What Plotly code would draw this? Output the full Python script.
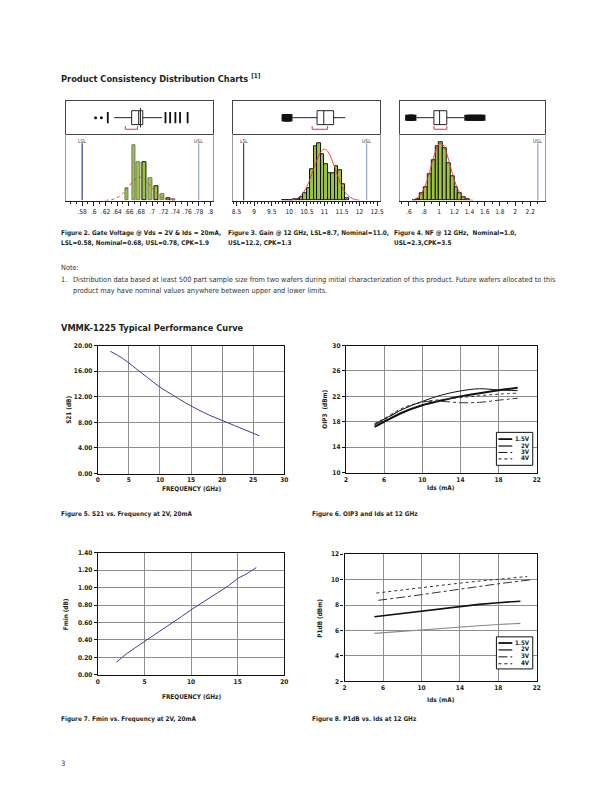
import plotly.graph_objects as go

# The page body has an 8px default margin, so the figure is sized to fill the rest
OFF = 8
W, H = 612 - OFF, 792 - OFF


def fx(px):
    return (px - OFF) / W


def fy(py):
    return 1 - (py - OFF) / H


NARROW = "Liberation Sans Narrow, DejaVu Sans Condensed, Arial Narrow, Liberation Sans, sans-serif"
INK = "#231f20"
GREEN = "#9cc43c"
RED = "#e4343c"

# ---------------- data: Figure 2 (gate voltage) ----------------
gv_centers = [0.657, 0.669, 0.677, 0.687, 0.697, 0.708, 0.718, 0.728, 0.737]
gv_counts = [12.7, 56, 39, 39, 23, 14, 6, 2, 1]
gv_fit_x = [0.62, 0.63, 0.64, 0.65, 0.66, 0.67, 0.68, 0.69, 0.70, 0.71, 0.72, 0.73, 0.74]
gv_fit_y = [0.2, 0.8, 2.9, 7.3, 14.3, 21.0, 23.5, 19.9, 12.8, 6.2, 2.3, 0.6, 0.1]
gv_stats = [0.635, 0.665, 0.677, 0.684, 0.717]  # lower fence, q1, median, q3, upper fence
gv_mean = [0.680]
gv_out_dots = [0.603, 0.613]
gv_out_ticks = [0.624, 0.723, 0.731, 0.740, 0.748, 0.761]
gv_bracket = [0.654, 0.675]
gv_limits = [0.58, 0.78]
gv_ticks = [0.58, 0.60, 0.62, 0.64, 0.66, 0.68, 0.70, 0.72, 0.74, 0.76, 0.78, 0.80]
gv_ticktext = [".58", ".6", ".62", ".64", ".66", ".68", ".7", ".72", ".74", ".76", ".78", ".8"]

# ---------------- data: Figure 3 (gain) ----------------
gain_centers = [9.85, 9.95, 10.05, 10.15, 10.25, 10.35, 10.45, 10.55, 10.65, 10.75,
                10.85, 10.95, 11.05, 11.15, 11.25, 11.35, 11.45, 11.55, 11.65]
gain_counts = [0.5, 0.5, 0.7, 1, 1.5, 3, 7, 12, 32, 55, 58, 47, 37, 28, 28, 35, 31, 16, 2]
gain_fit_x = [10.0, 10.1, 10.2, 10.3, 10.4, 10.5, 10.6, 10.7, 10.8, 10.9, 11.0,
              11.1, 11.2, 11.3, 11.4, 11.5, 11.6, 11.7, 11.8, 11.9, 12.0]
gain_fit_y = [0.3, 0.8, 1.9, 4.1, 8.0, 14.2, 22.6, 32.6, 42.2, 49.4, 52.0,
              49.4, 42.2, 32.6, 22.6, 14.2, 8.0, 4.1, 1.9, 0.8, 0.3]
gain_stats = [10.09, 10.79, 10.98, 11.26, 11.59]
gain_outliers = [9.88, 9.90, 9.92, 9.94, 9.96, 9.98, 9.99]
gain_bracket = [10.65, 11.09]
gain_limits = [8.7, 12.2]
gain_ticks = [8.5, 9, 9.5, 10, 10.5, 11, 11.5, 12, 12.5]
gain_ticktext = ["8.5", "9", "9.5", "10", "10.5", "11", "11.5", "12", "12.5"]

# ---------------- data: Figure 4 (noise figure) ----------------
nf_centers = [0.675, 0.725, 0.775, 0.825, 0.875, 0.925, 0.975, 1.025, 1.075,
              1.125, 1.175, 1.225, 1.275, 1.325, 1.375]
nf_counts = [0.5, 1.7, 7, 13, 27, 41, 55, 59, 53, 38, 25, 13, 7, 3, 1]
nf_fit_x = [0.65, 0.70, 0.75, 0.80, 0.85, 0.90, 0.95, 1.00, 1.05, 1.10, 1.15,
            1.20, 1.25, 1.30, 1.35, 1.40, 1.45]
nf_fit_y = [0.7, 2.2, 5.6, 12.3, 23.0, 36.6, 49.6, 57.3, 56.4, 47.3, 33.8,
            20.6, 10.7, 4.7, 1.8, 0.6, 0.2]
nf_stats = [0.70, 0.93, 1.005, 1.10, 1.33]
nf_outliers = [0.59, 0.61, 0.63, 0.645, 0.66, 1.37, 1.40, 1.43, 1.46, 1.49, 1.52, 1.55, 1.57]
nf_bracket = [0.93, 1.10]
nf_usl = [2.3]
nf_ticks = [0.6, 0.8, 1.0, 1.2, 1.4, 1.6, 1.8, 2.0, 2.2]
nf_ticktext = [".6", ".8", "1", "1.2", "1.4", "1.6", "1.8", "2", "2.2"]

# ---------------- data: Figure 5 (S21 vs frequency) ----------------
s21_freq = [2, 4, 6, 8, 10, 12, 14, 16, 18, 20, 22, 24, 26]
s21_db = [19.1, 18.0, 16.5, 15.0, 13.5, 12.3, 11.1, 10.05, 9.1, 8.3, 7.5, 6.7, 5.9]

# ---------------- data: Figure 6 (OIP3 vs Ids) ----------------
oip3_ids = [5, 6, 8, 10, 12, 14, 16, 18, 20]
oip3_15v = [17.6, 18.4, 20.0, 21.2, 22.2, 22.85, 23.2, 23.0, 22.9]
oip3_2v = [17.2, 18.0, 19.5, 20.6, 21.35, 22.0, 22.5, 22.95, 23.35]
oip3_3v = [17.5, 18.3, 20.0, 21.1, 21.2, 21.0, 21.05, 21.4, 21.7]
oip3_4v = [17.7, 18.5, 20.2, 21.1, 21.5, 21.8, 22.1, 22.35, 22.5]

# ---------------- data: Figure 7 (Fmin vs frequency) ----------------
fmin_freq = [2, 3, 4, 5, 6, 7, 8, 9, 10, 11, 12, 13, 14, 15, 16, 17]
fmin_db = [0.145, 0.235, 0.31, 0.38, 0.46, 0.53, 0.595, 0.67, 0.745, 0.815,
           0.89, 0.96, 1.02, 1.105, 1.16, 1.23]

# ---------------- data: Figure 8 (P1dB vs Ids) ----------------
p1db_ids_low = [5.1, 8, 10, 12, 14, 16, 18, 20.3]
p1db_15v = [5.78, 5.95, 6.04, 6.15, 6.27, 6.37, 6.47, 6.56]
p1db_2v = [7.08, 7.35, 7.52, 7.70, 7.90, 8.05, 8.18, 8.30]
p1db_ids_3v = [5.5, 8, 10, 12, 14, 16, 18, 21.4]
p1db_3v = [8.37, 8.6, 8.81, 9.03, 9.25, 9.46, 9.67, 9.98]
p1db_ids_4v = [5.3, 8, 10, 12, 14, 16, 18, 21.0]
p1db_4v = [8.94, 9.2, 9.38, 9.55, 9.72, 9.88, 10.03, 10.24]

legend_labels = ["1.5V", "2V", "3V", "4V"]

fig = go.Figure()
lay = {}
annotations = []
shapes = []


def ref(n):
    return ("x" if n == 1 else f"x{n}"), ("y" if n == 1 else f"y{n}")


def key(n):
    return ("xaxis" if n == 1 else f"xaxis{n}"), ("yaxis" if n == 1 else f"yaxis{n}")


HIST_TOP, HIST_MID, HIST_BOT = 98, 131.5, 198.5
HIST_YMAX = HIST_BOT - HIST_MID


def hist_panel(n, px0, px1, xr, centers, counts, bw, outline, fit_x, fit_y, fit_dash,
               stats, bracket, lsl, usl, ticks, ticktext, minor):
    bxr, byr = ref(n)
    hxr, hyr = ref(n + 1)
    bxk, byk = key(n)
    hxk, hyk = key(n + 1)
    fig.add_trace(go.Bar(x=centers, y=counts, width=bw, xaxis=hxr, yaxis=hyr,
                         marker=dict(color=GREEN, line=dict(color=outline, width=1)),
                         showlegend=False, hoverinfo="skip"))
    fig.add_trace(go.Scatter(x=fit_x, y=fit_y, mode="lines", xaxis=hxr, yaxis=hyr,
                             line=dict(color=RED, width=0.9, dash=fit_dash, shape="spline"),
                             showlegend=False, hoverinfo="skip"))
    for val, col, lab in [(lsl, "#2e3c8f", "LSL"), (usl, "#94a3cc", "USL")]:
        if val is None:
            continue
        fig.add_trace(go.Scatter(x=[val, val], y=[0, HIST_YMAX - 9], mode="lines",
                                 xaxis=hxr, yaxis=hyr, line=dict(color=col, width=1.2),
                                 showlegend=False, hoverinfo="skip"))
        annotations.append(dict(x=val, y=HIST_YMAX - 6.5, xref=hxr, yref=hyr, text=lab,
                                showarrow=False, yanchor="middle", borderpad=0,
                                font=dict(family=NARROW, size=5, color="#333")))
    fig.add_trace(go.Box(y=[0.5], lowerfence=[stats[0]], q1=[stats[1]], median=[stats[2]],
                         q3=[stats[3]], upperfence=[stats[4]], orientation="h",
                         width=0.42, whiskerwidth=0, fillcolor="white",
                         line=dict(color="#222", width=1), boxpoints=False,
                         xaxis=bxr, yaxis=byr, showlegend=False, hoverinfo="skip"))
    fig.add_trace(go.Scatter(x=[bracket[0], bracket[0], bracket[1], bracket[1]],
                             y=[0.25, 0.15, 0.15, 0.25], mode="lines",
                             xaxis=bxr, yaxis=byr, line=dict(color=RED, width=1),
                             showlegend=False, hoverinfo="skip"))
    lay[bxk] = dict(domain=[fx(px0), fx(px1)], range=xr, anchor=byr, showticklabels=False,
                    ticks="", showgrid=False, zeroline=False, showline=True, mirror=True,
                    linecolor="#444", linewidth=1)
    lay[byk] = dict(domain=[fy(HIST_MID), fy(HIST_TOP)], range=[0, 1], anchor=bxr,
                    showticklabels=False, ticks="", showgrid=False, zeroline=False,
                    showline=True, mirror=True, linecolor="#444", linewidth=1)
    lay[hxk] = dict(domain=[fx(px0), fx(px1)], range=xr, anchor=hyr, tickvals=ticks,
                    ticktext=ticktext, tickangle=0, ticks="outside", ticklen=4, tickwidth=1,
                    tickcolor="#222", showgrid=False, zeroline=False, showline=True,
                    linecolor="#222", linewidth=1.2,
                    minor=dict(dtick=minor, tick0=ticks[0], ticks="outside", ticklen=2,
                               tickcolor="#222", showgrid=False),
                    tickfont=dict(family=NARROW, size=6.6, color="#222"))
    lay[hyk] = dict(domain=[fy(HIST_BOT), fy(HIST_MID)], range=[0, HIST_YMAX], anchor=hxr,
                    showticklabels=False, ticks="", showgrid=False, zeroline=False,
                    showline=True, mirror=True, linecolor="#999", linewidth=1)
    return bxr, byr


# Figure 2 panel
bx, by = hist_panel(1, 65, 212.7, [0.553, 0.804], gv_centers, gv_counts, 0.0065,
                    ["#777", "#777", "#777", "#111", "#777", "#111", "#777", "#111", "#777"],
                    gv_fit_x, gv_fit_y, "dot", gv_stats, gv_bracket, gv_limits[0], gv_limits[1],
                    gv_ticks, gv_ticktext, 0.01)
fig.add_trace(go.Scatter(x=gv_mean, y=[0.5], mode="markers", xaxis=bx, yaxis=by,
                         marker=dict(symbol="line-ns", size=14, line=dict(color="#222", width=1)),
                         showlegend=False, hoverinfo="skip"))
fig.add_trace(go.Scatter(x=gv_out_dots, y=[0.5] * len(gv_out_dots), mode="markers",
                         xaxis=bx, yaxis=by, marker=dict(symbol="circle", size=3, color="#111"),
                         showlegend=False, hoverinfo="skip"))
fig.add_trace(go.Scatter(x=gv_out_ticks, y=[0.5] * len(gv_out_ticks), mode="markers",
                         xaxis=bx, yaxis=by,
                         marker=dict(symbol="line-ns", size=8, line=dict(color="#111", width=1.8)),
                         showlegend=False, hoverinfo="skip"))

# Figure 3 panel
bx, by = hist_panel(3, 233.3, 381.7, [8.40, 12.58], gain_centers, gain_counts, 0.1, "#111",
                    gain_fit_x, gain_fit_y, "solid", gain_stats, gain_bracket,
                    gain_limits[0], gain_limits[1], gain_ticks, gain_ticktext, 0.1)
fig.add_trace(go.Scatter(x=gain_outliers, y=[0.5] * len(gain_outliers), mode="markers",
                         xaxis=bx, yaxis=by, marker=dict(symbol="square", size=7, color="#111"),
                         showlegend=False, hoverinfo="skip"))

# Figure 4 panel
bx, by = hist_panel(5, 401.7, 548, [0.48, 2.39], nf_centers, nf_counts, 0.05, "#111",
                    nf_fit_x, nf_fit_y, "solid", nf_stats, nf_bracket, None, nf_usl[0],
                    nf_ticks, nf_ticktext, 0.1)
fig.add_trace(go.Scatter(x=nf_outliers, y=[0.5] * len(nf_outliers), mode="markers",
                         xaxis=bx, yaxis=by, marker=dict(symbol="square", size=6, color="#111"),
                         showlegend=False, hoverinfo="skip"))


# ---------------- performance charts ----------------
def perf_axes(n, px0, px1, py_top, py_bot, xr, xtick, yr, ytick, yfmt):
    xk, yk = key(n)
    xr_ref, yr_ref = ref(n)
    tf = dict(family=NARROW, size=6.5, color=INK, weight="bold")
    lay[xk] = dict(domain=[fx(px0), fx(px1)], range=xr, dtick=xtick, tick0=xr[0], anchor=yr_ref,
                   showgrid=True, gridcolor="#8e8e8e", gridwidth=1, zeroline=False,
                   showline=True, mirror=True, linecolor="#111", linewidth=1.3,
                   ticks="", tickfont=tf, tickangle=0)
    lay[yk] = dict(domain=[fy(py_bot), fy(py_top)], range=yr, dtick=ytick, tick0=yr[0],
                   anchor=xr_ref, tickformat=yfmt, showgrid=True, gridcolor="#8e8e8e",
                   gridwidth=1, zeroline=False, showline=True, mirror=True,
                   linecolor="#111", linewidth=1.3, ticks="outside", ticklen=3,
                   tickcolor="#111", tickfont=tf)
    return xr_ref, yr_ref


def axis_title(text, px, py, rot=0):
    annotations.append(dict(x=fx(px), y=fy(py), xref="paper", yref="paper", text=text,
                            showarrow=False, textangle=rot, xanchor="center", yanchor="middle",
                            font=dict(family=NARROW, size=6.4, color=INK, weight="bold")))


def legend_box(px0, px1, py0, py1, rows, styles):
    shapes.append(dict(type="rect", xref="paper", yref="paper", x0=fx(px0), x1=fx(px1),
                       y0=fy(py1), y1=fy(py0), line=dict(color="#111", width=1),
                       fillcolor="white", layer="above"))
    for lab, row, (dash, wd, col) in zip(legend_labels, rows, styles):
        shapes.append(dict(type="line", xref="paper", yref="paper", x0=fx(px0 + 2),
                           x1=fx(px0 + 16), y0=fy(row + 1), y1=fy(row + 1),
                           line=dict(color=col, width=wd, dash=dash), layer="above"))
        annotations.append(dict(x=fx(px1 - 2), y=fy(row), xref="paper", yref="paper",
                                text=lab, showarrow=False, xanchor="right", yanchor="middle",
                                borderpad=0,
                                font=dict(family=NARROW, size=6.2, color=INK, weight="bold")))


# Figure 5
xa, ya = perf_axes(7, 96.7, 285, 345, 474.3, [0, 30], 5, [0, 20], 4, ".2f")
fig.add_trace(go.Scatter(x=s21_freq, y=s21_db, mode="lines", xaxis=xa, yaxis=ya,
                         line=dict(color="#3d3d9e", width=1, shape="spline"),
                         showlegend=False, hoverinfo="skip"))
axis_title("S21 (dB)", 68, 409.5, -90)
axis_title("FREQUENCY (GHz)", 191, 490)

# Figure 6
xa, ya = perf_axes(8, 347.3, 540, 345, 473.3, [2, 22], 4, [10, 30], 4, "d")
styles6 = [("solid", 1.0, "#111"), ("solid", 2.0, "#111"), ("dashdot", 1.0, "#333"),
           ("dot", 1.0, "#333")]
for ys, (dash, wd, col) in zip([oip3_15v, oip3_2v, oip3_3v, oip3_4v], styles6):
    fig.add_trace(go.Scatter(x=oip3_ids, y=ys, mode="lines", xaxis=xa, yaxis=ya,
                             line=dict(color=col, width=wd, dash=dash, shape="spline"),
                             showlegend=False, hoverinfo="skip"))
axis_title("OIP3  (dBm)", 326, 409, -90)
axis_title("Ids (mA)", 443.5, 489)
legend_box(499.3, 536, 432.7, 466, [438.5, 445.5, 452, 458.5],
           [("solid", 1.8, "#111"), ("solid", 1.2, "#111"), ("dashdot", 1.0, "#111"),
            ("dot", 1.0, "#111")])

# Figure 7
xa, ya = perf_axes(9, 96.7, 285, 554.3, 677.7, [0, 20], 5, [0, 1.4], 0.2, ".2f")
fig.add_trace(go.Scatter(x=fmin_freq, y=fmin_db, mode="lines", xaxis=xa, yaxis=ya,
                         line=dict(color="#3d3d9e", width=1),
                         showlegend=False, hoverinfo="skip"))
axis_title("Fmin (dB)", 64, 616, -90)
axis_title("FREQUENCY (GHz)", 191, 700)

# Figure 8
xa, ya = perf_axes(10, 346, 540, 555.7, 684.3, [2, 22], 4, [2, 12], 2, "d")
series8 = [(p1db_ids_low, p1db_15v, ("solid", 1.2, "#8a8a8a")),
           (p1db_ids_low, p1db_2v, ("solid", 1.6, "#111")),
           (p1db_ids_3v, p1db_3v, ("dashdot", 1.0, "#333")),
           (p1db_ids_4v, p1db_4v, ("dot", 1.0, "#333"))]
for xs, ys, (dash, wd, col) in series8:
    fig.add_trace(go.Scatter(x=xs, y=ys, mode="lines", xaxis=xa, yaxis=ya,
                             line=dict(color=col, width=wd, dash=dash),
                             showlegend=False, hoverinfo="skip"))
axis_title("P1dB (dBm)", 321, 620, -90)
axis_title("Ids (mA)", 443, 703)
legend_box(499.3, 536, 639.3, 671.7, [644.5, 651.5, 658.5, 665.5],
           [("solid", 1.8, "#111"), ("solid", 1.2, "#111"), ("dashdot", 1.0, "#111"),
            ("dot", 1.0, "#111")])


# ---------------- page text ----------------
def text(t, px, py, size=6.4, bold=True, color=INK):
    annotations.append(dict(x=fx(px), y=fy(py), xref="paper", yref="paper", text=t,
                            showarrow=False, xanchor="left", yanchor="middle", align="left",
                            borderpad=0,
                            font=dict(family=NARROW, size=size, color=color,
                                      weight="bold" if bold else "normal")))


text("Product Consistency Distribution Charts <sup>[1]</sup>", 59, 75, size=9.2)
text("Figure 2. Gate Voltage @ Vds = 2V & Ids = 20mA,", 59, 231)
text("LSL=0.58, Nominal=0.68, USL=0.78, CPK=1.9", 59, 241.5)
text("Figure 3. Gain @ 12 GHz, LSL=8.7, Nominal=11.0,", 227, 231)
text("USL=12.2, CPK=1.3", 227, 241.5)
text("Figure 4. NF @ 12 GHz,  Nominal=1.0,", 395, 231)
text("USL=2.3,CPK=3.5", 395, 241.5)
text("Note:", 59, 266.5, size=7.3, bold=False, color="#333")
text("1.", 59, 278, size=7.3, bold=False, color="#333")
text("Distribution data based at least 500 part sample size from two wafers during initial "
     "characterization of this product. Future wafers allocated to this", 70.5, 278,
     size=7.3, bold=False, color="#333")
text("product may have nominal values anywhere between upper and lower limits.", 70.5, 289,
     size=7.3, bold=False, color="#333")
text("VMMK-1225 Typical Performance Curve", 59, 327, size=9.2)
text("Figure 5. S21 vs. Frequency at 2V, 20mA", 59, 515.5)
text("Figure 6. OIP3 and Ids at 12 GHz", 312, 515.5)
text("Figure 7. Fmin vs. Frequency at 2V, 20mA", 59, 722.5)
text("Figure 8. P1dB vs. Ids at 12 GHz", 312, 722.5)
text("3", 59, 767, size=7.5, bold=False, color="#333")

lay.update(dict(width=W, height=H, margin=dict(l=0, r=0, t=0, b=0), autosize=False,
                paper_bgcolor="white", plot_bgcolor="white", bargap=0,
                annotations=annotations, shapes=shapes, showlegend=False))
fig.update_layout(**lay)
fig.write_html("out.html")
